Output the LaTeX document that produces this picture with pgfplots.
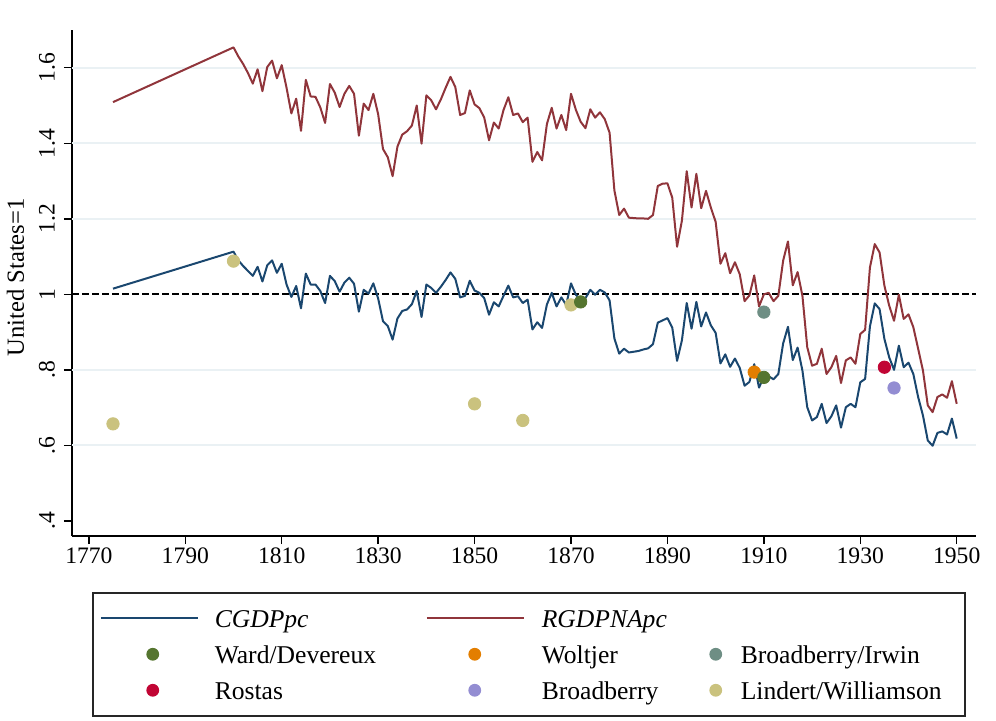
\documentclass[border=0pt]{standalone}
\usepackage{pgfplots}
\pgfplotsset{compat=1.18}
\usepackage{pgfplotstable}
\usepackage{fontspec}
\setmainfont{Liberation Serif}

\definecolor{navyc}{RGB}{26,71,111}
\definecolor{maroonc}{RGB}{144,53,59}
\definecolor{wdc}{RGB}{85,117,47}
\definecolor{wolc}{RGB}{227,126,0}
\definecolor{bic}{RGB}{110,142,132}
\definecolor{rosc}{RGB}{193,5,52}
\definecolor{brc}{RGB}{147,141,210}
\definecolor{lwc}{RGB}{202,194,126}
\definecolor{gridc}{RGB}{234,241,244}

\pgfplotstableread{
year v
1775 1.015
1800 1.113
1801 1.090
1802 1.075
1803 1.062
1804 1.049
1805 1.073
1806 1.034
1807 1.077
1808 1.090
1809 1.057
1810 1.081
1811 1.026
1812 0.993
1813 1.022
1814 0.963
1815 1.055
1816 1.026
1817 1.026
1818 1.009
1819 0.977
1820 1.049
1821 1.035
1822 1.007
1823 1.031
1824 1.044
1825 1.028
1826 0.954
1827 1.012
1828 1.002
1829 1.029
1830 0.989
1831 0.929
1832 0.916
1833 0.880
1834 0.936
1835 0.956
1836 0.960
1837 0.974
1838 1.009
1839 0.940
1840 1.026
1841 1.017
1842 1.004
1843 1.020
1844 1.038
1845 1.058
1846 1.041
1847 0.992
1848 0.996
1849 1.036
1850 1.010
1851 1.004
1852 0.990
1853 0.946
1854 0.979
1855 0.968
1856 0.996
1857 1.023
1858 0.992
1859 0.995
1860 0.977
1861 0.986
1862 0.907
1863 0.926
1864 0.911
1865 0.973
1866 1.004
1867 0.968
1868 0.992
1869 0.972
1870 1.029
1871 0.999
1872 0.985
1873 0.990
1874 1.012
1875 0.999
1876 1.012
1877 1.005
1878 0.984
1879 0.883
1880 0.843
1881 0.856
1882 0.846
1883 0.848
1884 0.850
1885 0.854
1886 0.857
1887 0.868
1888 0.925
1889 0.931
1890 0.937
1891 0.912
1892 0.824
1893 0.878
1894 0.977
1895 0.909
1896 0.980
1897 0.915
1898 0.952
1899 0.918
1900 0.898
1901 0.817
1902 0.841
1903 0.808
1904 0.830
1905 0.805
1906 0.758
1907 0.768
1908 0.815
1909 0.753
1910 0.782
1911 0.783
1912 0.775
1913 0.789
1914 0.870
1915 0.914
1916 0.826
1917 0.859
1918 0.798
1919 0.701
1920 0.666
1921 0.675
1922 0.710
1923 0.659
1924 0.677
1925 0.706
1926 0.647
1927 0.701
1928 0.710
1929 0.701
1930 0.767
1931 0.776
1932 0.915
1933 0.976
1934 0.961
1935 0.882
1936 0.833
1937 0.800
1938 0.864
1939 0.807
1940 0.819
1941 0.789
1942 0.728
1943 0.679
1944 0.613
1945 0.599
1946 0.633
1947 0.637
1948 0.629
1949 0.671
1950 0.618
}\cgdp

\pgfplotstableread{
year v
1775 1.509
1800 1.654
1801 1.630
1802 1.610
1803 1.586
1804 1.558
1805 1.596
1806 1.538
1807 1.602
1808 1.619
1809 1.572
1810 1.607
1811 1.547
1812 1.479
1813 1.518
1814 1.433
1815 1.568
1816 1.524
1817 1.523
1818 1.495
1819 1.454
1820 1.557
1821 1.534
1822 1.496
1823 1.531
1824 1.552
1825 1.531
1826 1.420
1827 1.505
1828 1.488
1829 1.531
1830 1.477
1831 1.385
1832 1.363
1833 1.313
1834 1.391
1835 1.423
1836 1.432
1837 1.447
1838 1.500
1839 1.399
1840 1.527
1841 1.514
1842 1.490
1843 1.516
1844 1.547
1845 1.576
1846 1.549
1847 1.475
1848 1.480
1849 1.540
1850 1.503
1851 1.493
1852 1.468
1853 1.408
1854 1.455
1855 1.439
1856 1.488
1857 1.522
1858 1.475
1859 1.479
1860 1.456
1861 1.468
1862 1.351
1863 1.377
1864 1.355
1865 1.451
1866 1.494
1867 1.439
1868 1.475
1869 1.435
1870 1.531
1871 1.489
1872 1.457
1873 1.440
1874 1.490
1875 1.468
1876 1.482
1877 1.464
1878 1.428
1879 1.275
1880 1.210
1881 1.227
1882 1.203
1883 1.202
1884 1.201
1885 1.201
1886 1.200
1887 1.210
1888 1.287
1889 1.293
1890 1.294
1891 1.256
1892 1.126
1893 1.195
1894 1.326
1895 1.230
1896 1.319
1897 1.228
1898 1.274
1899 1.230
1900 1.192
1901 1.081
1902 1.109
1903 1.056
1904 1.085
1905 1.053
1906 0.982
1907 0.997
1908 1.050
1909 0.968
1910 1.000
1911 1.004
1912 0.982
1913 0.996
1914 1.089
1915 1.140
1916 1.024
1917 1.059
1918 0.996
1919 0.860
1920 0.811
1921 0.816
1922 0.856
1923 0.789
1924 0.807
1925 0.837
1926 0.765
1927 0.825
1928 0.833
1929 0.816
1930 0.895
1931 0.906
1932 1.071
1933 1.133
1934 1.111
1935 1.023
1936 0.970
1937 0.930
1938 0.999
1939 0.935
1940 0.947
1941 0.913
1942 0.856
1943 0.798
1944 0.706
1945 0.688
1946 0.728
1947 0.735
1948 0.726
1949 0.770
1950 0.710
}\rgdp

\begin{document}
\begin{tikzpicture}
\begin{axis}[
  name=ax,
  scale only axis, width=452pt, height=253pt,
  xmin=1766.5, xmax=1954, ymin=0.36, ymax=1.70,
  axis x line*=bottom, axis y line*=left,
  axis line style={line width=0.7pt, black},
  xtick={1770,1790,1810,1830,1850,1870,1890,1910,1930,1950},
  ytick={0.4,0.6,0.8,1,1.2,1.4,1.6},
  yticklabels={.4,.6,.8,1,1.2,1.4,1.6},
  tick align=outside, major tick length=4pt,
  tick style={black, line width=0.7pt},
  /pgf/number format/assume math mode=true,
  /pgf/number format/1000 sep={},
  xticklabel style={font=\fontsize{11.8}{14}\selectfont, anchor=center, yshift=-6pt},
  yticklabel style={font=\fontsize{11.8}{14}\selectfont, rotate=90, anchor=center, yshift=8.5pt},
  extra y ticks={0.6,0.8,1.2,1.4,1.6},
  extra y tick labels={},
  extra y tick style={grid=major, major tick length=0pt, major grid style={gridc, line width=1pt}},
  ylabel={United States=1},
  every axis y label/.style={at={(axis description cs:-0.0625,0.511)}, rotate=90, anchor=center, font=\fontsize{12.3}{14}\selectfont},
  legend cell align=left,
  legend columns=3,
  legend style={at={(axis description cs:0.02212,-0.11067)}, anchor=north west,
    draw=black!85, line width=0.75pt, inner xsep=0pt, inner ysep=3.75pt,
    column sep=0pt, row sep=0pt,
    font=\fontsize{12.8}{15}\selectfont,
    nodes={inner sep=0pt, text height=13.5pt, text depth=4.5pt},
    /tikz/column 2/.style={nodes={text width=98pt}},
    /tikz/column 4/.style={nodes={text width=79.5pt}},
    /tikz/column 6/.style={nodes={text width=112pt}}},
]
\addplot[black, dash pattern=on 3.3pt off 1.7pt, line width=0.9pt, forget plot] coordinates {(1766.5,1) (1954,1)};
\addplot[navyc, line width=1pt, line join=round, forget plot] table[x=year, y=v] {\cgdp};
\addplot[maroonc, line width=1pt, line join=round, forget plot] table[x=year, y=v] {\rgdp};
\addplot[lwc, only marks, mark=*, mark size=3.1pt, mark options={draw=lwc, fill=lwc, line width=0.4pt}, forget plot] coordinates {(1775,0.657) (1800,1.088) (1850,0.710) (1860,0.666) (1870,0.972)};
\addplot[wolc, only marks, mark=*, mark size=3.1pt, mark options={draw=wolc, fill=wolc, line width=0.4pt}, forget plot] coordinates {(1908,0.794)};
\addplot[wdc, only marks, mark=*, mark size=3.1pt, mark options={draw=wdc, fill=wdc, line width=0.4pt}, forget plot] coordinates {(1872,0.980) (1910,0.780)};
\addplot[bic, only marks, mark=*, mark size=3.1pt, mark options={draw=bic, fill=bic, line width=0.4pt}, forget plot] coordinates {(1910,0.953)};
\addplot[rosc, only marks, mark=*, mark size=3.1pt, mark options={draw=rosc, fill=rosc, line width=0.4pt}, forget plot] coordinates {(1935,0.807)};
\addplot[brc, only marks, mark=*, mark size=3.1pt, mark options={draw=brc, fill=brc, line width=0.4pt}, forget plot] coordinates {(1937,0.752)};

\addlegendimage{legend image code/.code={\draw[navyc, line width=1pt] (4pt,0pt) -- (52.5pt,0pt); \path[draw=none, fill=none] (0pt,0pt) -- (61pt,0pt);}}
\addlegendentry{\textit{CGDPpc}}
\addlegendimage{legend image code/.code={\draw[maroonc, line width=1pt] (8pt,0pt) -- (56.5pt,0pt); \path[draw=none, fill=none] (0pt,0pt) -- (65.5pt,0pt);}}
\addlegendentry{\textit{RGDPNApc}}
\addlegendimage{legend image code/.code={\path[draw=none, fill=none] (0pt,0pt) -- (20pt,0pt);}}
\addlegendentry{}
\addlegendimage{legend image code/.code={\fill[wdc, draw=none] (30pt,0pt) circle (3.2pt); \path[draw=none, fill=none] (0pt,0pt) -- (61pt,0pt);}}
\addlegendentry{Ward/Devereux}
\addlegendimage{legend image code/.code={\fill[wolc, draw=none] (32pt,0pt) circle (3.2pt); \path[draw=none, fill=none] (0pt,0pt) -- (65.5pt,0pt);}}
\addlegendentry{Woltjer}
\addlegendimage{legend image code/.code={\fill[bic, draw=none] (7.5pt,0pt) circle (3.2pt); \path[draw=none, fill=none] (0pt,0pt) -- (20pt,0pt);}}
\addlegendentry{Broadberry/Irwin}
\addlegendimage{legend image code/.code={\fill[rosc, draw=none] (30pt,0pt) circle (3.2pt); \path[draw=none, fill=none] (0pt,0pt) -- (61pt,0pt);}}
\addlegendentry{Rostas}
\addlegendimage{legend image code/.code={\fill[brc, draw=none] (32pt,0pt) circle (3.2pt); \path[draw=none, fill=none] (0pt,0pt) -- (65.5pt,0pt);}}
\addlegendentry{Broadberry}
\addlegendimage{legend image code/.code={\fill[lwc, draw=none] (7.5pt,0pt) circle (3.2pt); \path[draw=none, fill=none] (0pt,0pt) -- (20pt,0pt);}}
\addlegendentry{Lindert/Williamson}
\end{axis}
\path ([shift={(-36pt,-92pt)}]ax.south west) rectangle ([shift={(462pt,268pt)}]ax.south west);
\end{tikzpicture}
\end{document}
